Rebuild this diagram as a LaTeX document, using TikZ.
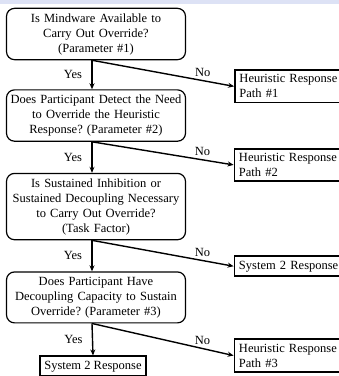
\documentclass[tikz,border=0pt]{standalone}
\usepackage{fontspec}
\setmainfont{Liberation Serif}
\usetikzlibrary{positioning,arrows.meta}
\definecolor{topband}{RGB}{221,226,245}
\frenchspacing
\begin{document}
\begin{tikzpicture}[x=1pt,y=-1pt,node distance=30pt,>={Stealth[length=6pt,width=5pt]},
        font=\fontsize{12.5}{15}\selectfont,
        decision/.style={draw, rectangle, rounded corners=8pt, line width=1.2pt, align=center, text width=176pt, inner xsep=1.5pt, inner ysep=5pt},
        outcome/.style={draw, rectangle, line width=1.8pt, align=left, text width=103pt, inner sep=4.5pt},
        flow/.style={line width=1.4pt}]
        \useasboundingbox (0,0) rectangle (339,376);
        \clip (0,0) rectangle (339,376);
        \fill[topband] (0,0) rectangle (339,4);

        \node (q1) [decision] at (96,34) {Is Mindware Available to\\Carry Out Override?\\(Parameter \#1)};
        \node (q2) [decision, below=29pt of q1] {Does Participant Detect the Need\\to Override the Heuristic\\Response? (Parameter \#2)};
        \node (q3) [decision, below=31pt of q2] {Is Sustained Inhibition or\\Sustained Decoupling Necessary\\to Carry Out Override?\\(Task Factor)};
        \node (q4) [decision, below=31pt of q3] {Does Participant Have\\Decoupling Capacity to Sustain\\Override? (Parameter \#3)};
        \node (sys2) [outcome, text width=, minimum width=102pt, below=32pt of q4, xshift=-3pt] {System 2 Response};

        \node (path1) [outcome, below right=9pt and 48pt of q1] {Heuristic Response\\Path \#1};
        \node (path2) [outcome, below right=6pt and 47.5pt of q2] {Heuristic Response\\Path \#2};
        \node (sysr) [outcome, below right=15pt and 47.5pt of q3] {System 2 Response};
        \node (path3) [outcome, below right=15pt and 47.5pt of q4] {Heuristic Response\\Path \#3};

        \draw[->, flow] ([xshift=-4pt]q1.south) -- node[left=6pt]{Yes} ([xshift=-4pt]q2.north);
        \draw[->, flow] ([xshift=-4pt]q2.south) -- node[left=6pt]{Yes} ([xshift=-4pt]q3.north);
        \draw[->, flow] ([xshift=-4pt]q3.south) -- node[left=6pt]{Yes} ([xshift=-4pt]q4.north);
        \draw[->, flow] ([xshift=-4pt]q4.south) -- node[left=6pt]{Yes} (sys2.north);

        \draw[->, flow] ([xshift=-4pt]q1.south) -- node[above, pos=0.78]{No} (path1.west);
        \draw[->, flow] ([xshift=-4pt]q2.south) -- node[above, pos=0.78]{No} (path2.west);
        \draw[->, flow] ([xshift=-4pt]q3.south) -- node[above, pos=0.78]{No} (sysr.west);
        \draw[->, flow] ([xshift=-4pt]q4.south) -- node[above, pos=0.78]{No} (path3.west);
    \end{tikzpicture}
\end{document}
